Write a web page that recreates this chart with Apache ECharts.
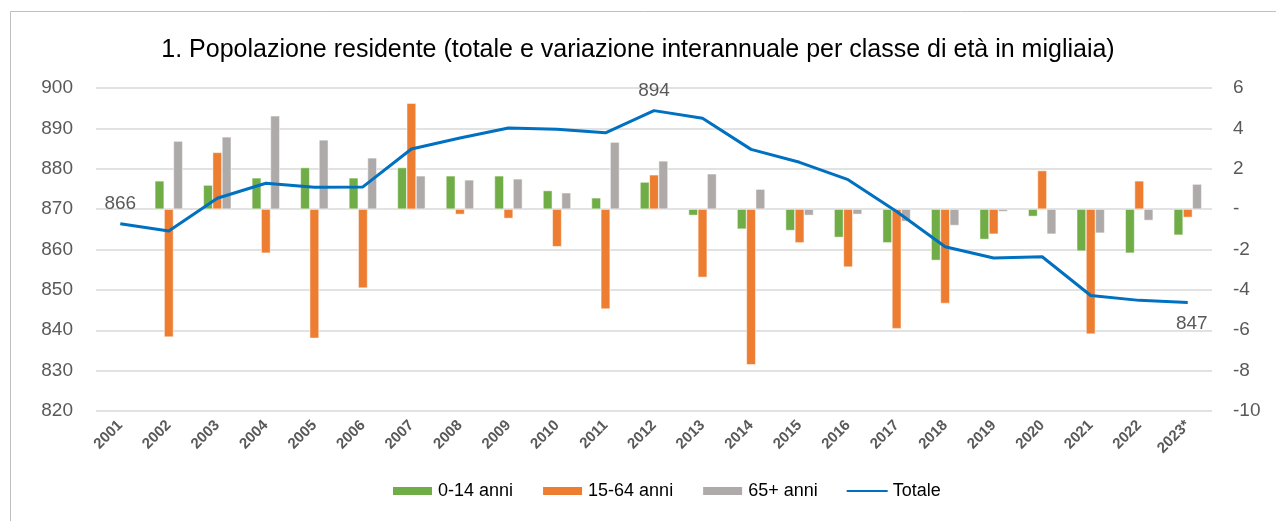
<!DOCTYPE html>
<html>
<head>
<meta charset="utf-8">
<script src="https://cdn.jsdelivr.net/npm/echarts@6/dist/echarts.min.js"></script>
<style>
  html, body { margin: 0; padding: 0; background: #fff; }
  #chart { width: 1276px; height: 521px; }
</style>
</head>
<body>
<div id="chart"></div>
<script>
// anni (2001 senza variazione)
var years = ['2001', '2002', '2003', '2004', '2005', '2006', '2007', '2008', '2009', '2010', '2011', '2012',
  '2013', '2014', '2015', '2016', '2017', '2018', '2019', '2020', '2021', '2022', '2023*'];

// variazione interannuale (migliaia) - asse destro
var age0_14 = [null, 1.40, 1.19, 1.55, 2.06, 1.55, 2.06, 1.65, 1.65, 0.92, 0.56, 1.34,
  -0.31, -0.99, -1.06, -1.40, -1.67, -2.54, -1.50, -0.36, -2.08, -2.18, -1.29];
var age15_64 = [null, -6.34, 2.81, -2.18, -6.40, -3.91, 5.25, -0.26, -0.46, -1.86, -4.95, 1.70,
  -3.38, -7.71, -1.67, -2.87, -5.92, -4.67, -1.24, 1.91, -6.19, 1.40, -0.41];
var age65 = [null, 3.37, 3.58, 4.62, 3.43, 2.54, 1.65, 1.45, 1.50, 0.81, 3.32, 2.39,
  1.75, 0.99, -0.31, -0.26, -0.61, -0.81, -0.12, -1.24, -1.19, -0.56, 1.24];

// popolazione totale (migliaia) - asse sinistro
var totale = [866.4, 864.6, 872.7, 876.4, 875.4, 875.5, 884.9, 887.6, 890.1, 889.8, 888.9, 894.4,
  892.5, 884.8, 881.6, 877.3, 869.4, 860.7, 857.9, 858.2, 848.6, 847.4, 846.9];

// punti della linea con etichetta
var labelIdx = [0, 11, 22];
var labelPos = ['top', 'top', 'bottom'];

var font = '"Liberation Sans Narrow", "Arial Narrow", "Liberation Sans", Arial, sans-serif';
var grey = '#595959';

var myChart = echarts.init(document.getElementById('chart'));

function barSeries(name, data, color) {
  return {
    name: name,
    type: 'bar',
    yAxisIndex: 1,
    data: data,
    barWidth: 9.3,
    barGap: '0%',
    itemStyle: { color: color, borderColor: '#fff', borderWidth: 0.5 },
    emphasis: { disabled: true }
  };
}

var labelData = labelIdx.map(function (i, k) {
  return {
    value: [i, totale[i]],
    label: {
      position: labelPos[k],
      distance: labelPos[k] === 'top' ? 10 : 12,
      offset: i === 22 ? [4, 0] : [0, 0]
    }
  };
});

var option = {
  animation: false,
  title: {
    text: '1. Popolazione residente (totale e variazione interannuale per classe di età in migliaia)',
    left: 'center',
    top: 33,
    textStyle: { fontFamily: font, fontSize: 25, fontWeight: 'normal', color: '#000' }
  },
  graphic: [{
    type: 'rect',
    shape: { x: 10.5, y: 11.5, width: 1300, height: 600 },
    style: { fill: 'none', stroke: '#BFBFBF', lineWidth: 1 },
    silent: true
  }],
  legend: {
    bottom: 16,
    left: 386,
    itemWidth: 41,
    itemHeight: 10,
    itemGap: 28,
    textStyle: { fontFamily: font, fontSize: 18, color: '#000' },
    data: [
      { name: '0-14 anni', icon: 'rect' },
      { name: '15-64 anni', icon: 'rect' },
      { name: '65+ anni', icon: 'rect' },
      { name: 'Totale', itemStyle: { opacity: 0 } }
    ]
  },
  grid: { left: 96, right: 64, top: 88, bottom: 110 },
  xAxis: {
    type: 'category',
    data: years,
    axisLine: { show: false },
    axisTick: { show: false },
    axisLabel: {
      rotate: 45,
      interval: 0,
      margin: 12,
      fontFamily: font,
      fontSize: 15,
      fontWeight: 'bold',
      color: grey
    }
  },
  yAxis: [{
    type: 'value',
    position: 'left',
    min: 820,
    max: 900,
    interval: 10,
    axisLine: { show: false },
    axisTick: { show: false },
    axisLabel: { margin: 23, fontFamily: font, fontSize: 19, color: grey },
    splitLine: { lineStyle: { color: '#D9D9D9', width: 1.5 } }
  }, {
    type: 'value',
    position: 'right',
    min: -10,
    max: 6,
    interval: 2,
    axisLine: { show: false },
    axisTick: { show: false },
    axisLabel: {
      margin: 21,
      fontFamily: font,
      fontSize: 19,
      color: grey,
      formatter: function (v) { return v === 0 ? '-' : v; }
    },
    splitLine: { show: false }
  }],
  series: [
    barSeries('0-14 anni', age0_14, '#70AD47'),
    barSeries('15-64 anni', age15_64, '#ED7D31'),
    barSeries('65+ anni', age65, '#AEAAAA'),
    {
      name: 'Totale',
      type: 'line',
      yAxisIndex: 0,
      data: totale,
      symbol: 'none',
      lineStyle: { color: '#0070C0', width: 3 },
      itemStyle: { color: '#0070C0' },
      emphasis: { disabled: true },
      z: 5
    },
    {
      name: 'etichette',
      type: 'scatter',
      yAxisIndex: 0,
      data: labelData,
      symbolSize: 0,
      itemStyle: { color: '#0070C0', opacity: 1 },
      label: {
        show: true,
        formatter: function (p) { return Math.round(p.value[1]); },
        fontFamily: font,
        fontSize: 19,
        color: grey,
        opacity: 1
      },
      silent: true,
      z: 6
    }
  ]
};

myChart.setOption(option);
</script>
</body>
</html>
